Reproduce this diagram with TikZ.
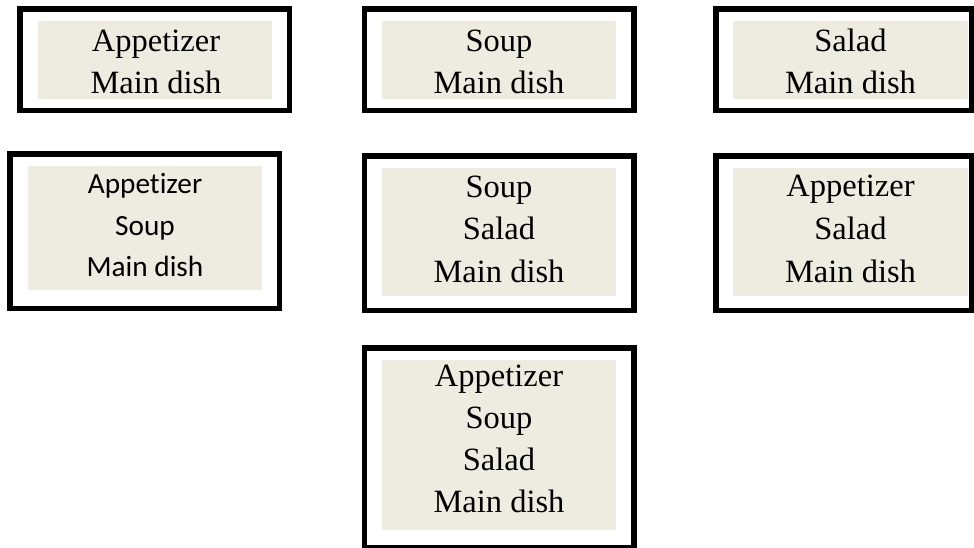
\documentclass[tikz,border=0pt]{standalone}
\usepackage{fontspec}
\setmainfont{Liberation Serif}
\newfontfamily\calfont[Ligatures=NoCommon]{Carlito}
\definecolor{panel}{HTML}{EEECE1}
\begin{document}
\begin{tikzpicture}[x=1pt,y=-1pt,
  frame/.style={draw=black,line width=5.5pt,fill=none,inner sep=0pt,outer sep=0pt},
  panelbox/.style={fill=panel,draw=none,inner sep=0pt,outer sep=0pt},
  txt/.style={anchor=base,inner sep=0pt,outer sep=0pt,font=\fontsize{32.5}{40}\selectfont},
  ctxt/.style={anchor=base,inner sep=0pt,outer sep=0pt,font=\calfont\fontsize{29.3}{36}\selectfont}]
\useasboundingbox (0,0) rectangle (974,547);
% Box A
\node[frame,minimum width=269.5pt,minimum height=101.5pt] (oA) at (154.5,59.5) {};
\node[panelbox,minimum width=234pt,minimum height=78pt] (fA) at (155,60) {};
\node[txt] (a1) at (156,51) {Appetizer};
\node[txt] (a2) at (156,93) {Main dish};
% Box B
\node[frame,minimum width=269.5pt,minimum height=101.5pt] (oB) at (499,59.5) {};
\node[panelbox,minimum width=234pt,minimum height=78pt] (fB) at (499,60) {};
\node[txt] (b1) at (499,51) {Soup};
\node[txt] (b2) at (499,93) {Main dish};
% Box C
\node[frame,minimum width=256pt,minimum height=101.5pt] (oC) at (843.75,59.5) {};
\node[panelbox,minimum width=235pt,minimum height=78pt] (fC) at (850.5,60) {};
\node[txt] (c1) at (850.5,51) {Salad};
\node[txt] (c2) at (850.5,93) {Main dish};
% Box D
\node[frame,minimum width=269.5pt,minimum height=154.5pt] (oD) at (144.5,231) {};
\node[panelbox,minimum width=234pt,minimum height=124pt] (fD) at (145,228) {};
\node[ctxt] (d1) at (145,193.5) {Appetizer};
\node[ctxt] (d2) at (145,235) {Soup};
\node[ctxt] (d3) at (145,276.5) {Main dish};
% Box E
\node[frame,minimum width=269.5pt,minimum height=154.5pt] (oE) at (499,233) {};
\node[panelbox,minimum width=234pt,minimum height=128pt] (fE) at (499,232) {};
\node[txt] (e1) at (499,197) {Soup};
\node[txt] (e2) at (499,239.5) {Salad};
\node[txt] (e3) at (499,282) {Main dish};
% Box F
\node[frame,minimum width=256pt,minimum height=154.5pt] (oF) at (843.75,233) {};
\node[panelbox,minimum width=235pt,minimum height=128pt] (fF) at (850.5,232) {};
\node[txt] (f1) at (850.5,196.5) {Appetizer};
\node[txt] (f2) at (850.5,239.5) {Salad};
\node[txt] (f3) at (850.5,282.5) {Main dish};
% Box G
\node[frame,minimum width=269.5pt,minimum height=200pt] (oG) at (499,447.75) {};
\node[panelbox,minimum width=234pt,minimum height=170pt] (fG) at (499,445) {};
\node[txt] (g1) at (499,386) {Appetizer};
\node[txt] (g2) at (499,428) {Soup};
\node[txt] (g3) at (499,470) {Salad};
\node[txt] (g4) at (499,512) {Main dish};
\end{tikzpicture}
\end{document}
